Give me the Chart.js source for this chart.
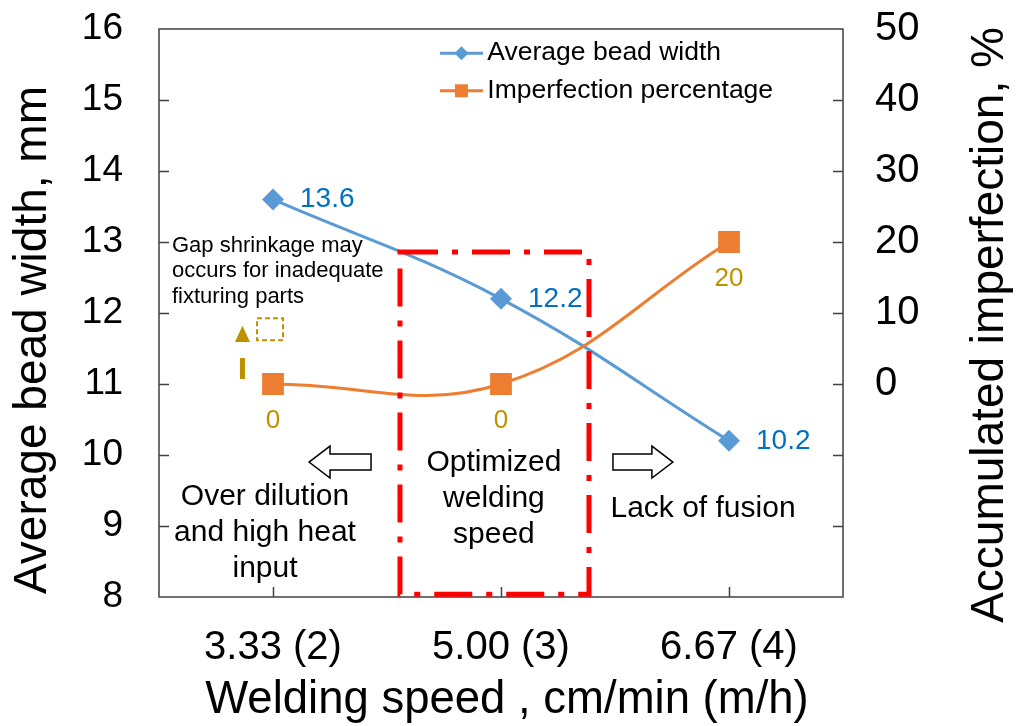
<!DOCTYPE html>
<html>
<head>
<meta charset="utf-8">
<title>Bead width and imperfection vs welding speed</title>
<script src="https://cdn.jsdelivr.net/npm/chart.js@4.4.1/dist/chart.umd.min.js"></script>
<style>
  html, body { margin: 0; padding: 0; background: #fff; }
  #wrap { width: 1019px; height: 726px; }
</style>
</head>
<body>
<div id="wrap"><canvas id="speedChart" width="1019" height="726"></canvas></div>
<script>
// welding speed categories and the two measured series
const speeds = ['3.33 (2)', '5.00 (3)', '6.67 (4)'];
const beadWidth = [13.6, 12.2, 10.2];      // mm, left axis
const imperfection = [0, 0, 20];           // %, right axis
const widthAxis = { min: 8, max: 16, step: 1 };
const imperfectionAxis = { min: -30, max: 50, step: 10 };

const FONT = "'Liberation Sans', Arial, Helvetica, sans-serif";
const BLUE = '#5b9bd5';
const ORANGE = '#ed7d31';
const BLUE_TEXT = '#0070c0';
const GOLD = '#bf9000';
const AXIS = '#404040';

// notes placed in axis units (x = category index, y = bead width)
const optimumBox = { from: 0.557, to: 1.386, low: 8.04, high: 12.86 };
const hollowArrows = [
  { tip: 0.158, tail: 0.43, at: 9.9 },
  { tip: 1.754, tail: 1.491, at: 9.9 }
];
const notes = [
  { lines: ['Optimized', 'welding', 'speed'], x: 0.969, y: 9.89, size: 30, lh: 36, align: 'center' },
  { lines: ['Over dilution', 'and high heat', 'input'], x: -0.035, y: 9.41, size: 30, lh: 36, align: 'center' },
  { lines: ['Lack of fusion'], x: 1.886, y: 9.24, size: 30, lh: 36, align: 'center' },
  { lines: ['Gap shrinkage may', 'occurs for inadequate', 'fixturing parts'], x: -0.443, y: 12.95, size: 22, lh: 25.5, align: 'left' }
];
const gapArrow = { x: -0.134, from: 11.07, base: 11.59, tip: 11.82 };
const gapBox = { x: -0.013, y: 11.77 };

function font(size) { return size + 'px ' + FONT; }

// plot frame and inward tick marks
const framePlugin = {
  id: 'frame',
  beforeDatasetsDraw(chart) {
    const { ctx, chartArea: a, scales } = chart;
    ctx.save();
    ctx.strokeStyle = AXIS;
    ctx.lineWidth = 1.5;
    ctx.strokeRect(a.left, a.top, a.right - a.left, a.bottom - a.top);
    ctx.beginPath();
    scales.y.ticks.forEach((t, i) => {
      if (t.value <= widthAxis.min || t.value >= widthAxis.max) return;
      const py = Math.round(scales.y.getPixelForTick(i)) + 0.5;
      ctx.moveTo(a.left, py); ctx.lineTo(a.left + 10, py);
    });
    scales.y1.ticks.forEach((t, i) => {
      if (t.value <= imperfectionAxis.min || t.value >= imperfectionAxis.max) return;
      const py = Math.round(scales.y1.getPixelForTick(i)) + 0.5;
      ctx.moveTo(a.right, py); ctx.lineTo(a.right - 10, py);
    });
    speeds.forEach((s, i) => {
      const px = Math.round(scales.x.getPixelForValue(i)) + 0.5;
      ctx.moveTo(px, a.bottom); ctx.lineTo(px, a.bottom - 10);
    });
    ctx.stroke();
    ctx.restore();
  }
};

// axis titles
const titlePlugin = {
  id: 'titles',
  afterDraw(chart) {
    const { ctx } = chart;
    ctx.save();
    ctx.fillStyle = '#000';
    ctx.font = font(45.5);
    ctx.textAlign = 'center';
    ctx.textBaseline = 'alphabetic';
    ctx.fillText('Welding speed , cm/min (m/h)', 507, 713);
    ctx.font = font(46);
    ctx.textBaseline = 'middle';
    [['Average bead width, mm', 33, 340], ['Accumulated imperfection, %', 990, 325]].forEach(([txt, x, y]) => {
      ctx.save();
      ctx.translate(x, y);
      ctx.rotate(-Math.PI / 2);
      ctx.fillText(txt, 0, 0);
      ctx.restore();
    });
    ctx.restore();
  }
};

// value labels, legend and the in-plot notes
const notesPlugin = {
  id: 'notes',
  afterDatasetsDraw(chart) {
    const { ctx, scales } = chart;
    const px = v => scales.x.getPixelForValue(v);
    const py = v => scales.y.getPixelForValue(v);
    ctx.save();

    // value labels
    ctx.textBaseline = 'middle';
    ctx.font = font(28);
    ctx.fillStyle = BLUE_TEXT;
    ctx.textAlign = 'left';
    chart.getDatasetMeta(0).data.forEach((pt, i) => {
      ctx.fillText(beadWidth[i].toFixed(1), pt.x + 27, pt.y);
    });
    ctx.font = font(26);
    ctx.fillStyle = GOLD;
    ctx.textAlign = 'center';
    chart.getDatasetMeta(1).data.forEach((pt, i) => {
      ctx.fillText(String(imperfection[i]), pt.x, pt.y + 37);
    });

    // optimum speed window
    ctx.strokeStyle = '#ff0000';
    ctx.lineWidth = 5;
    ctx.setLineDash([38, 14, 6, 14]);
    ctx.strokeRect(px(optimumBox.from), py(optimumBox.high),
      px(optimumBox.to) - px(optimumBox.from), py(optimumBox.low) - py(optimumBox.high));
    ctx.setLineDash([]);

    // hollow block arrows
    ctx.strokeStyle = '#000';
    ctx.fillStyle = '#fff';
    ctx.lineWidth = 1.5;
    hollowArrows.forEach(a => {
      const tx = px(a.tip), ex = px(a.tail), y = py(a.at);
      const dir = ex > tx ? 1 : -1;
      const bx = tx + dir * 21;
      ctx.beginPath();
      ctx.moveTo(tx, y);
      ctx.lineTo(bx, y - 16);
      ctx.lineTo(bx, y - 8);
      ctx.lineTo(ex, y - 8);
      ctx.lineTo(ex, y + 8);
      ctx.lineTo(bx, y + 8);
      ctx.lineTo(bx, y + 16);
      ctx.closePath();
      ctx.fill();
      ctx.stroke();
    });

    // text notes
    ctx.fillStyle = '#000';
    notes.forEach(n => {
      ctx.font = font(n.size);
      ctx.textAlign = n.align;
      n.lines.forEach((line, k) => ctx.fillText(line, px(n.x), py(n.y) + k * n.lh));
    });

    // gap shrinkage hint: dashed arrow and dashed marker
    const gx = px(gapArrow.x);
    ctx.strokeStyle = GOLD;
    ctx.fillStyle = GOLD;
    ctx.lineWidth = 5;
    ctx.setLineDash([21, 16]);
    ctx.beginPath();
    ctx.moveTo(gx, py(gapArrow.from));
    ctx.lineTo(gx, py(gapArrow.base));
    ctx.stroke();
    ctx.setLineDash([]);
    ctx.beginPath();
    ctx.moveTo(gx, py(gapArrow.tip));
    ctx.lineTo(gx - 7.5, py(gapArrow.base));
    ctx.lineTo(gx + 7.5, py(gapArrow.base));
    ctx.closePath();
    ctx.fill();
    ctx.lineWidth = 2;
    ctx.setLineDash([5, 3]);
    ctx.strokeRect(px(gapBox.x) - 13, py(gapBox.y) - 11, 26, 22);
    ctx.setLineDash([]);

    // legend
    const rows = [15.66, 15.13];
    chart.data.datasets.forEach((ds, i) => {
      const y = py(rows[i]);
      const x0 = px(0.732), x1 = px(0.921);
      ctx.strokeStyle = ds.borderColor;
      ctx.lineWidth = 3;
      ctx.beginPath();
      ctx.moveTo(x0, y); ctx.lineTo(x1, y);
      ctx.stroke();
      ctx.fillStyle = ds.borderColor;
      const cx = (x0 + x1) / 2;
      ctx.beginPath();
      if (ds.pointStyle === 'rectRot') {
        ctx.moveTo(cx, y - 7); ctx.lineTo(cx + 7, y); ctx.lineTo(cx, y + 7); ctx.lineTo(cx - 7, y);
      } else {
        ctx.rect(cx - 6.5, y - 6.5, 13, 13);
      }
      ctx.closePath();
      ctx.fill();
      ctx.fillStyle = '#000';
      ctx.font = font(26.5);
      ctx.textAlign = 'left';
      ctx.fillText(ds.label, px(0.94), y);
    });
    ctx.restore();
  }
};

// fixed axis sizes so the plot box lands where it should
function fixY(width) {
  return s => { s.width = width; s.paddingTop = 0; s.paddingBottom = 0; };
}

new Chart(document.getElementById('speedChart'), {
  type: 'line',
  data: {
    labels: speeds,
    datasets: [
      {
        label: 'Average bead width',
        data: beadWidth,
        yAxisID: 'y',
        borderColor: BLUE,
        backgroundColor: BLUE,
        borderWidth: 3,
        tension: 0.4,
        pointStyle: 'rectRot',
        pointRadius: 11,
        pointBorderWidth: 0,
        order: 1
      },
      {
        label: 'Imperfection percentage',
        data: imperfection,
        yAxisID: 'y1',
        borderColor: ORANGE,
        backgroundColor: ORANGE,
        borderWidth: 3,
        tension: 0.4,
        pointStyle: 'rect',
        pointRadius: 15.4,
        pointBorderWidth: 0,
        order: 0
      }
    ]
  },
  options: {
    responsive: false,
    animation: false,
    devicePixelRatio: 1,
    layout: { padding: { top: 29, left: 0, right: 0, bottom: 0 } },
    scales: {
      x: {
        type: 'category',
        offset: true,
        grid: { display: false, drawTicks: false },
        border: { display: false },
        ticks: { color: '#000', font: { family: FONT, size: 40 }, padding: 27, maxRotation: 0, minRotation: 0 },
        afterFit: s => { s.height = 129; s.paddingLeft = 0; s.paddingRight = 0; }
      },
      y: {
        position: 'left',
        min: widthAxis.min,
        max: widthAxis.max,
        grid: { display: false, drawTicks: false },
        border: { display: false },
        ticks: { stepSize: widthAxis.step, color: '#000', font: { family: FONT, size: 37 }, padding: 36 },
        afterFit: fixY(159)
      },
      y1: {
        position: 'right',
        min: imperfectionAxis.min,
        max: imperfectionAxis.max,
        grid: { display: false, drawTicks: false },
        border: { display: false },
        ticks: {
          stepSize: imperfectionAxis.step,
          color: '#000',
          font: { family: FONT, size: 40 },
          padding: 32,
          callback: v => (v < 0 ? '' : v)
        },
        afterFit: fixY(176)
      }
    },
    plugins: {
      legend: { display: false },
      tooltip: { enabled: false }
    }
  },
  plugins: [framePlugin, notesPlugin, titlePlugin]
});
</script>
</body>
</html>
